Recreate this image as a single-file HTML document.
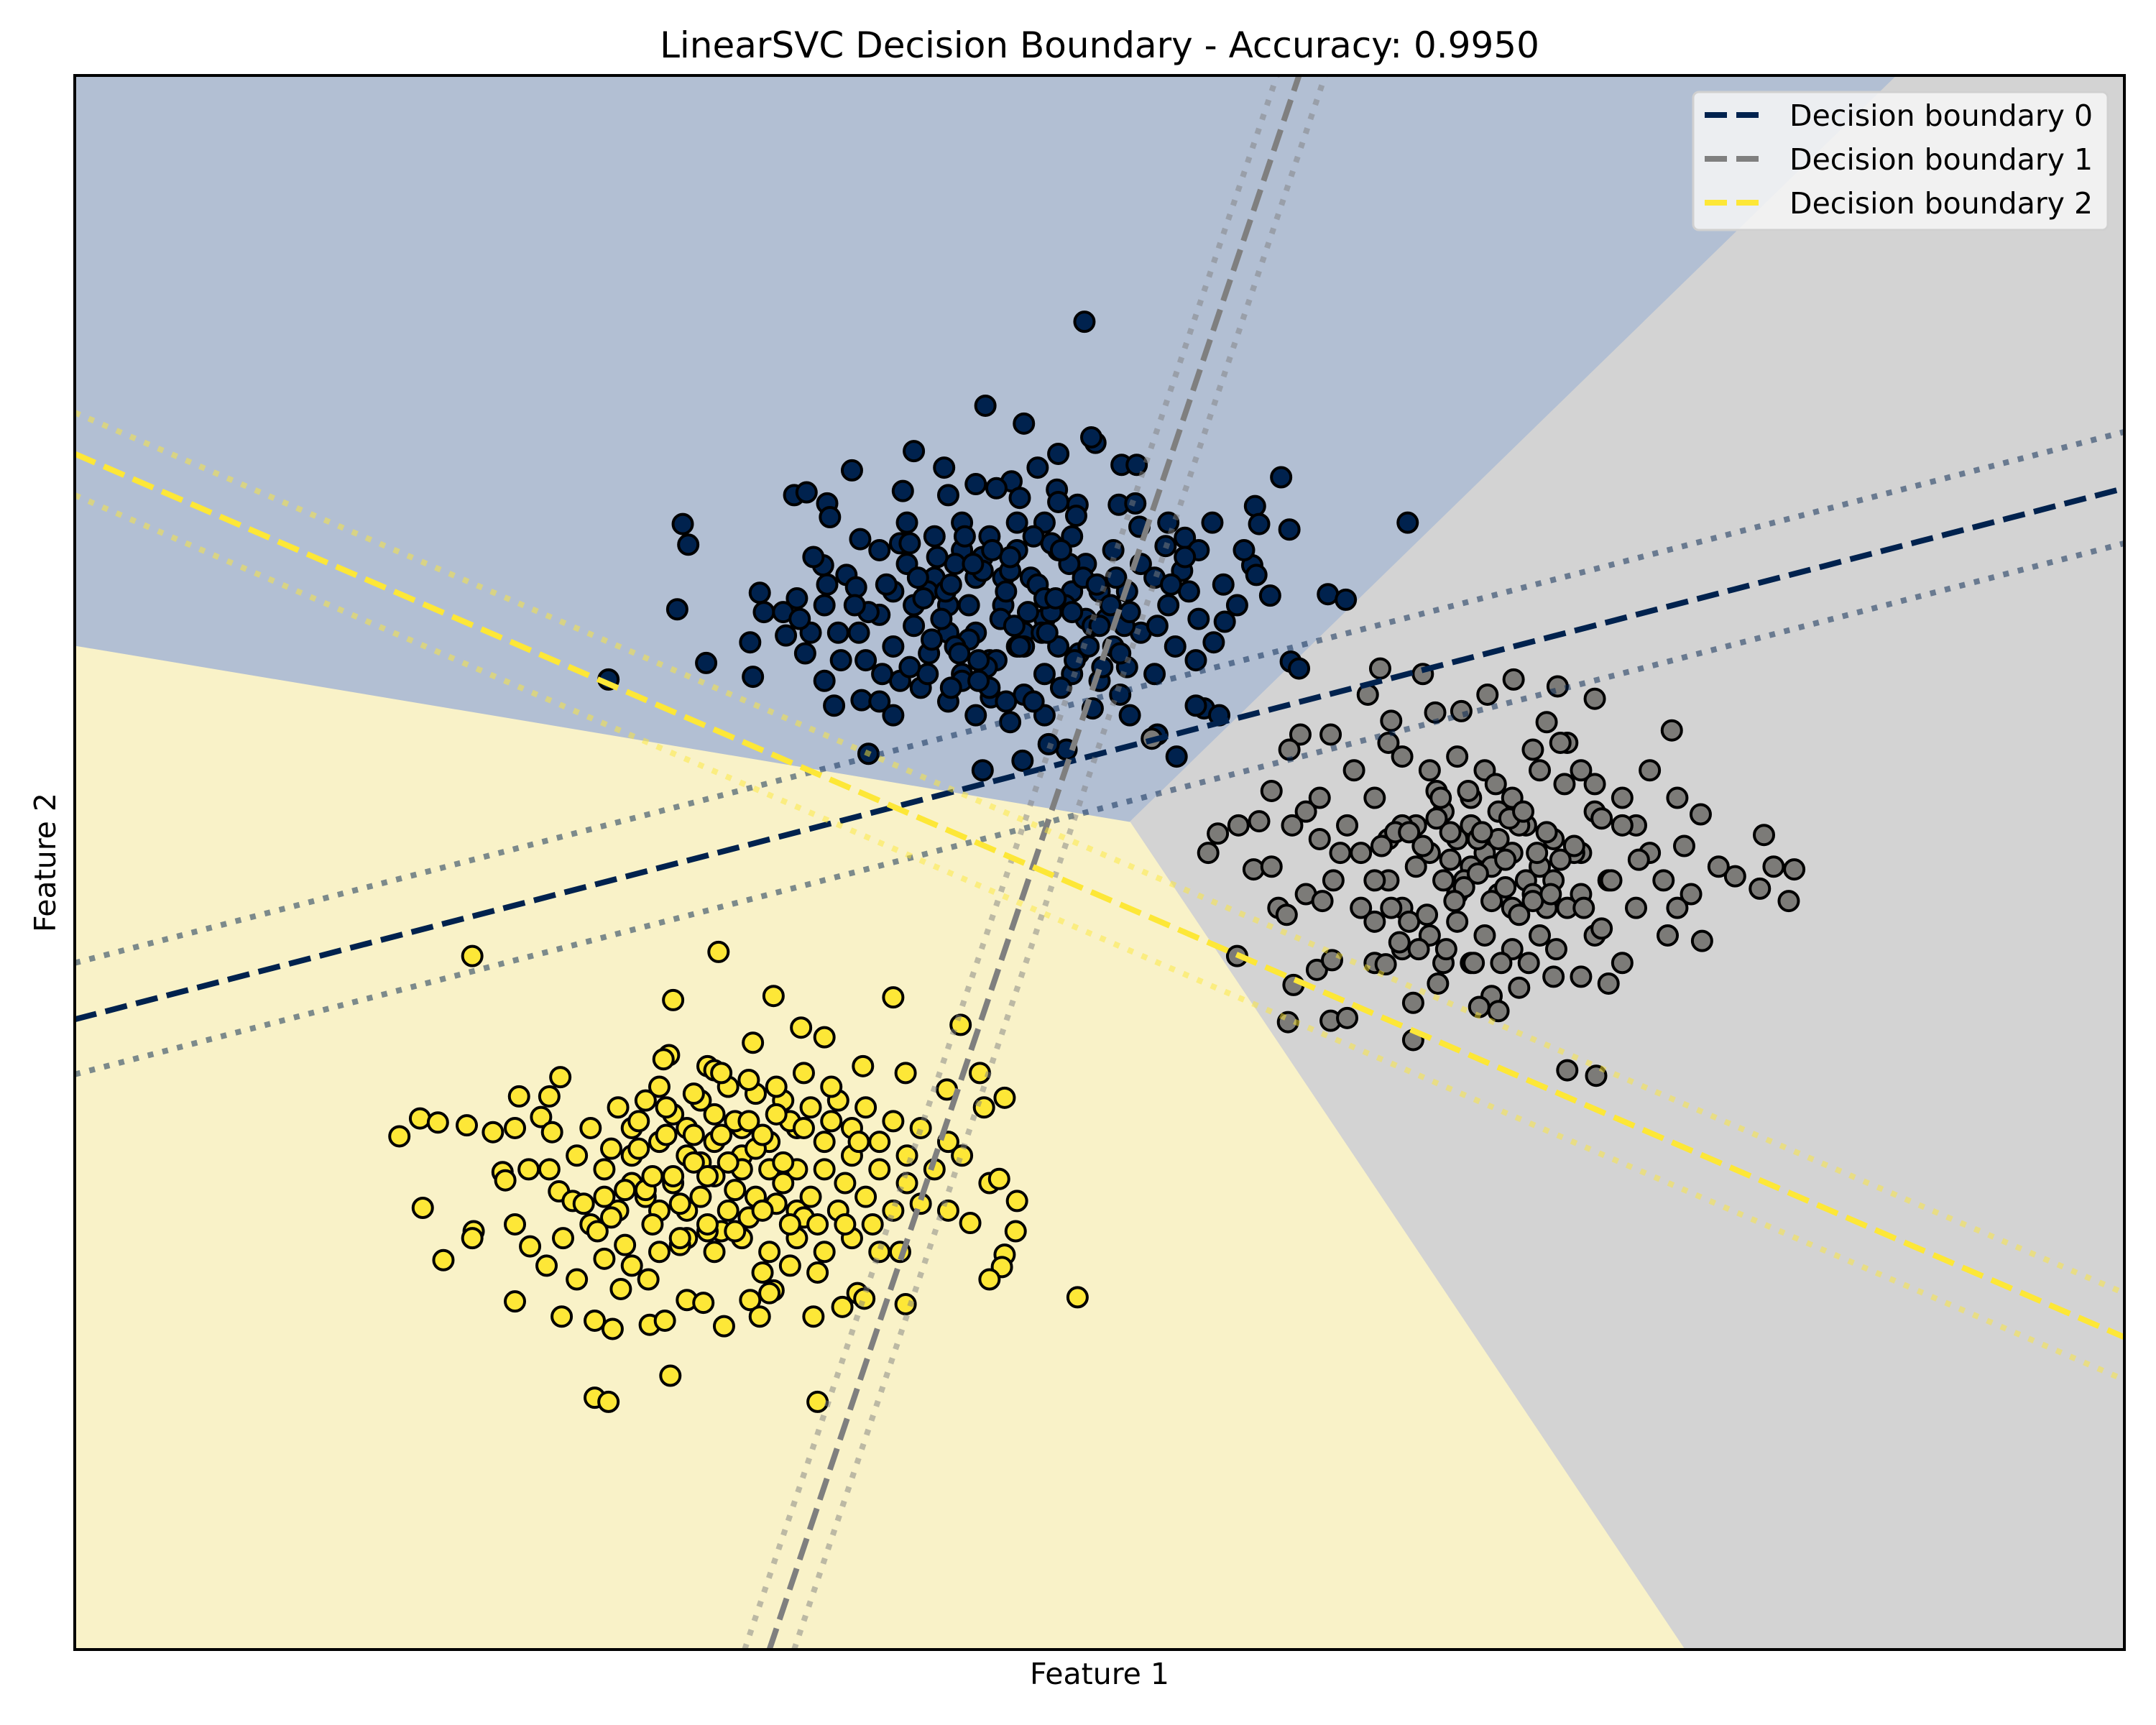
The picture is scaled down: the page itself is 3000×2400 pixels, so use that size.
<!DOCTYPE html>
<html><head><meta charset="utf-8"><style>
html,body{margin:0;padding:0;background:#fff;}
svg{display:block;font-family:"DejaVu Sans","Liberation Sans",sans-serif;}
</style></head><body>
<svg id="chart" width="3000" height="2400" viewBox="0 0 3000 2400">
<defs><clipPath id="plotclip"><rect x="104" y="105" width="2852" height="2190"/></clipPath></defs>
<g id="regions" clip-path="url(#plotclip)"></g>
<g id="points" clip-path="url(#plotclip)"></g>
<g id="lines" clip-path="url(#plotclip)"></g>
<rect x="104" y="105" width="2852" height="2190" fill="none" stroke="#000" stroke-width="4"/>
<text x="1530" y="80" font-size="50" text-anchor="middle">LinearSVC Decision Boundary - Accuracy: 0.9950</text>
<text x="1530" y="2343" font-size="41" text-anchor="middle">Feature 1</text>
<text x="0" y="0" font-size="41" text-anchor="middle" transform="translate(77,1200) rotate(-90)">Feature 2</text>
<g id="legend">
<rect x="2356" y="128" width="577" height="192" rx="8" fill="#f6f6f6" fill-opacity="0.85" stroke="#d0d0d0" stroke-width="3"/>
<g><line x1="2372" y1="160" x2="2448" y2="160" stroke="#00224e" stroke-width="8" stroke-dasharray="31 13"/><text x="2490" y="175" font-size="41">Decision boundary 0</text></g>
<g><line x1="2372" y1="221" x2="2448" y2="221" stroke="#7f7f7f" stroke-width="8" stroke-dasharray="31 13"/><text x="2490" y="236" font-size="41">Decision boundary 1</text></g>
<g><line x1="2372" y1="282" x2="2448" y2="282" stroke="#fde737" stroke-width="8" stroke-dasharray="31 13"/><text x="2490" y="297" font-size="41">Decision boundary 2</text></g>
</g>
</svg>
<script>
// Data coordinates: feature1 domain [55,1545], feature2 domain [55,1199] (drawn downward)
const xDomain = [55, 1545];
const yDomain = [55, 1199];
const class0X = [789,717,745,665,770,797,794,620,687,816,827,932,578,587,602,604,657,710,736,742,497,501,1024,913,916,938,911,914,924,493,966,979,514,443,546,556,553,548,939,945,876,870,887,856,842,632,715,744,776,763,822,607,627,580,572,586,883,891,862,872,848,814,826,829,769,784,783,599,616,626,623,640,665,676,700,721,745,760,800,810,830,850,865,890,900,855,820,700,680,690,710,730,750,770,790,800,760,740,720,660,650,640,720,740,700,760,780,810,830,840,780,790,770,780,650,630,610,600,660,680,740,730,710,690,670,690,650,640,710,735,760,795,815,840,870,820,805,725,755,770,690,600,590,570,860,905,882,850,675,695,715,735,755,775,795,685,705,725,745,765,785,665,645,625,655,675,705,745,765,735,715,695,675,655,760,780,800,815,700,720,
 668,688,708,728,748,768,788,808,678,698,718,738,758,778,798,818,662,682,702,722,742,762,782,802,672,692,712,732,752,772,792,632,612,852,842,822,602,592,582,622,642,662,872,862,812,692,712,732,752,772];
const class0Y = [234,295,308,328,330,322,318,342,340,338,338,347,360,358,366,376,357,352,350,362,381,396,380,368,381,385,411,418,433,443,432,436,482,494,467,445,431,492,481,486,515,513,520,550,534,548,560,553,545,541,520,513,509,435,462,475,467,452,391,400,397,367,366,383,356,367,375,411,418,392,427,447,455,475,490,507,505,490,495,470,460,440,430,425,440,470,430,400,420,440,460,440,420,400,410,430,450,470,480,410,430,400,390,380,380,380,390,400,410,420,430,450,470,490,470,480,460,440,380,390,400,420,420,460,500,510,520,510,520,525,520,515,505,490,480,485,450,355,340,365,360,495,460,445,415,400,380,380,430,410,405,415,425,440,455,450,465,480,460,445,475,440,425,460,495,430,440,470,395,405,415,470,490,395,435,445,455,475,495,500,
 420,430,410,450,445,435,420,440,465,475,485,455,460,410,425,455,395,405,390,400,470,460,480,485,435,425,480,430,390,400,470,445,480,425,455,445,425,405,450,440,490,485,450,405,420,500,495,510,510,500];
const class1X = [1035,1101,1133,1082,1160,1216,1004,1063,1044,1012,1010,946,968,938,925,916,886,901,950,960,985,1000,1020,1040,1060,1080,1100,1120,1140,1160,1180,1200,1220,1237,1225,1200,1283,1262,1290,1305,1301,1280,1238,1213,1190,1170,1150,1130,1110,1090,1070,1050,1030,1010,990,970,950,930,912,936,900,941,958,969,937,968,980,1000,1020,1040,1060,1080,1100,1120,1140,1160,1180,1170,1150,1130,1105,1085,1076,1090,1046,1028,1028,1008,1140,1161,990,1010,1030,1050,1070,1090,1110,1130,1150,1060,1080,1100,1120,1040,1020,1000,980,960,1070,1090,1115,1125,1150,1190,1210,1230,1250,1220,1070,1050,1025,1060,1100,1000,975,940,925,1180,1160,1135,1045,1020,995,838,879,1065,1075,1085,1095,1055,1115,1125,1105,1145,1165,
 1015,1035,1055,1075,1095,1115,1135,1005,1025,1045,1065,1085,1105,1125,1145,1165,1018,1038,1058,1078,1098,1118,1138,1048,1068,1088,1108,1128,1012,1032,1052,1072,1092,1112,1132,1152,1172,1192,962,982];
const class1Y = [490,494,499,505,508,531,486,517,518,524,540,534,534,545,575,597,606,600,590,610,560,580,550,560,550,560,580,560,540,570,580,560,580,592,615,620,607,637,630,632,655,646,684,680,660,640,620,610,600,610,600,590,600,610,620,640,650,660,632,665,695,716,705,698,743,742,740,700,690,680,670,680,690,680,660,680,700,715,710,710,718,724,732,735,715,729,756,701,778,782,660,640,630,640,630,650,640,640,650,610,620,620,630,620,660,640,600,580,580,590,545,525,560,600,640,650,630,660,700,700,670,650,660,670,620,600,630,600,590,540,575,600,505,537,620,640,610,630,625,605,650,660,600,620,
 595,605,615,625,635,645,655,625,615,605,595,645,655,665,605,615,675,685,665,655,605,595,620,570,580,575,570,590,650,660,690,690,700,700,700,690,660,640,625,655];
const class2X = [344,523,490,563,650,699,583,600,548,487,483,515,520,628,659,408,378,400,713,689,716,731,306,291,319,340,359,375,394,402,430,450,470,490,510,530,550,570,590,610,630,650,670,690,700,680,660,640,620,600,580,560,540,520,500,480,460,440,420,400,385,366,368,407,417,308,345,344,323,375,386,398,410,430,450,470,490,510,530,550,570,590,610,630,650,670,690,720,727,740,739,731,729,706,720,784,375,409,433,446,473,484,500,512,527,546,553,563,592,613,624,629,659,655,640,620,600,580,560,540,520,500,480,460,440,420,452,472,488,433,443,595,560,540,520,560,580,500,480,460,440,620,640,660,600,580,540,520,500,480,460,530,550,570,510,490,470,525,545,565,585,505,535,555,575,495,515,
 445,465,485,505,525,545,565,585,605,625,455,475,495,515,535,555,575,595,615,435,455,475,495,515,535,555,575,595,615,635,465,485,505,525,545,565,585,605,425,445];
const class2Y = [695,692,727,724,725,745,747,754,758,767,770,775,778,775,780,783,797,797,780,792,805,798,813,826,816,818,823,820,812,823,820,805,800,810,800,790,795,800,805,800,805,815,820,830,840,850,860,850,840,830,820,830,840,830,840,830,840,850,840,850,850,852,858,866,873,878,895,900,916,890,906,920,900,890,880,870,860,870,880,870,860,870,880,870,880,875,880,860,857,873,895,912,921,889,930,943,946,957,960,966,963,960,945,947,964,945,957,938,957,950,940,944,948,910,910,900,910,900,910,900,910,900,910,920,915,930,937,930,1000,1016,1019,1019,940,850,855,850,850,880,880,860,870,820,830,840,850,880,820,810,820,790,820,845,835,845,845,855,865,895,885,875,885,825,815,825,815,905,895,
 835,835,825,845,825,815,810,820,815,830,865,855,875,855,865,880,890,890,860,895,905,890,900,890,895,925,920,925,890,890,815,805,795,780,785,790,780,790,875,885];
const classColors = ["#00224e","#7c7b78","#fde737"];
// decision regions (polygon vertices in data coordinates)
const regionBlueX = [55,1380,822,55];
const regionBlueY = [55,55,598,470];
const regionGrayX = [1380,1545,1545,1225,822];
const regionGrayY = [55,55,1199,1199,598];
const regionYellowX = [55,822,1225,55];
const regionYellowY = [470,598,1199,1199];
// boundaries: [x1,y1,x2,y2] for center and margins
const boundary0 = [55,741,1545,355];
const boundary0Upper = [55,700,1545,314];
const boundary0Lower = [55,781,1545,395];
const boundary1 = [560,1199,945,55];
const boundary1Left = [542,1199,929,55];
const boundary1Right = [578,1199,964,55];
const boundary2 = [55,330,1545,972];
const boundary2Upper = [55,300,1545,940];
const boundary2Lower = [55,360,1545,1003];

const NS = "http://www.w3.org/2000/svg";
function sx(v){return 104 + (v - xDomain[0]) * 2852 / (xDomain[1] - xDomain[0]);}
function sy(v){return 105 + (v - yDomain[0]) * 2190 / (yDomain[1] - yDomain[0]);}

const regions = document.getElementById('regions');
function poly(xs, ys, fill, name){
  const p = document.createElementNS(NS,'polygon');
  p.setAttribute('points', xs.map((x,i)=>sx(x)+','+sy(ys[i])).join(' '));
  p.setAttribute('fill', fill);
  p.setAttribute('stroke', fill);
  p.setAttribute('stroke-width', '2');
  
  
  regions.appendChild(p);
}
poly(regionBlueX, regionBlueY, '#b2bfd3', 'region-class-0');
poly(regionGrayX, regionGrayY, '#d3d3d3', 'region-class-1');
poly(regionYellowX, regionYellowY, '#f9f2c8', 'region-class-2');

const pts = document.getElementById('points');
function drawClass(xs, ys, color, name){
  for(let i=0;i<xs.length;i++){
    const c = document.createElementNS(NS,'circle');
    c.setAttribute('cx', sx(xs[i]));
    c.setAttribute('cy', sy(ys[i]));
    c.setAttribute('r', 13.5);
    c.setAttribute('fill', color);
    c.setAttribute('stroke', '#000');
    c.setAttribute('stroke-width', '4');
    
    
    pts.appendChild(c);
  }
}
drawClass(class0X, class0Y, classColors[0], 'point-class-0');
drawClass(class1X, class1Y, classColors[1], 'point-class-1');
drawClass(class2X, class2Y, classColors[2], 'point-class-2');

const lines = document.getElementById('lines');
function line(b, color, dash, opacity, name){
  const l = document.createElementNS(NS,'line');
  l.setAttribute('x1', sx(b[0])); l.setAttribute('y1', sy(b[1]));
  l.setAttribute('x2', sx(b[2])); l.setAttribute('y2', sy(b[3]));
  l.setAttribute('stroke', color);
  l.setAttribute('stroke-width', '8');
  l.setAttribute('stroke-dasharray', dash);
  l.setAttribute('stroke-opacity', opacity);
  
  
  lines.appendChild(l);
}
const DASH = '31 13', DOT = '8 13';
line(boundary0Upper, '#00224e', DOT, 0.5, 'margin-0-upper');
line(boundary0Lower, '#00224e', DOT, 0.5, 'margin-0-lower');
line(boundary0, '#00224e', DASH, 1, 'decision-boundary-0');
line(boundary1Left, '#7f7f7f', DOT, 0.5, 'margin-1-left');
line(boundary1Right, '#7f7f7f', DOT, 0.5, 'margin-1-right');
line(boundary1, '#7f7f7f', DASH, 1, 'decision-boundary-1');
line(boundary2Upper, '#fde737', DOT, 0.5, 'margin-2-upper');
line(boundary2Lower, '#fde737', DOT, 0.5, 'margin-2-lower');
line(boundary2, '#fde737', DASH, 1, 'decision-boundary-2');
</script>
</body></html>
